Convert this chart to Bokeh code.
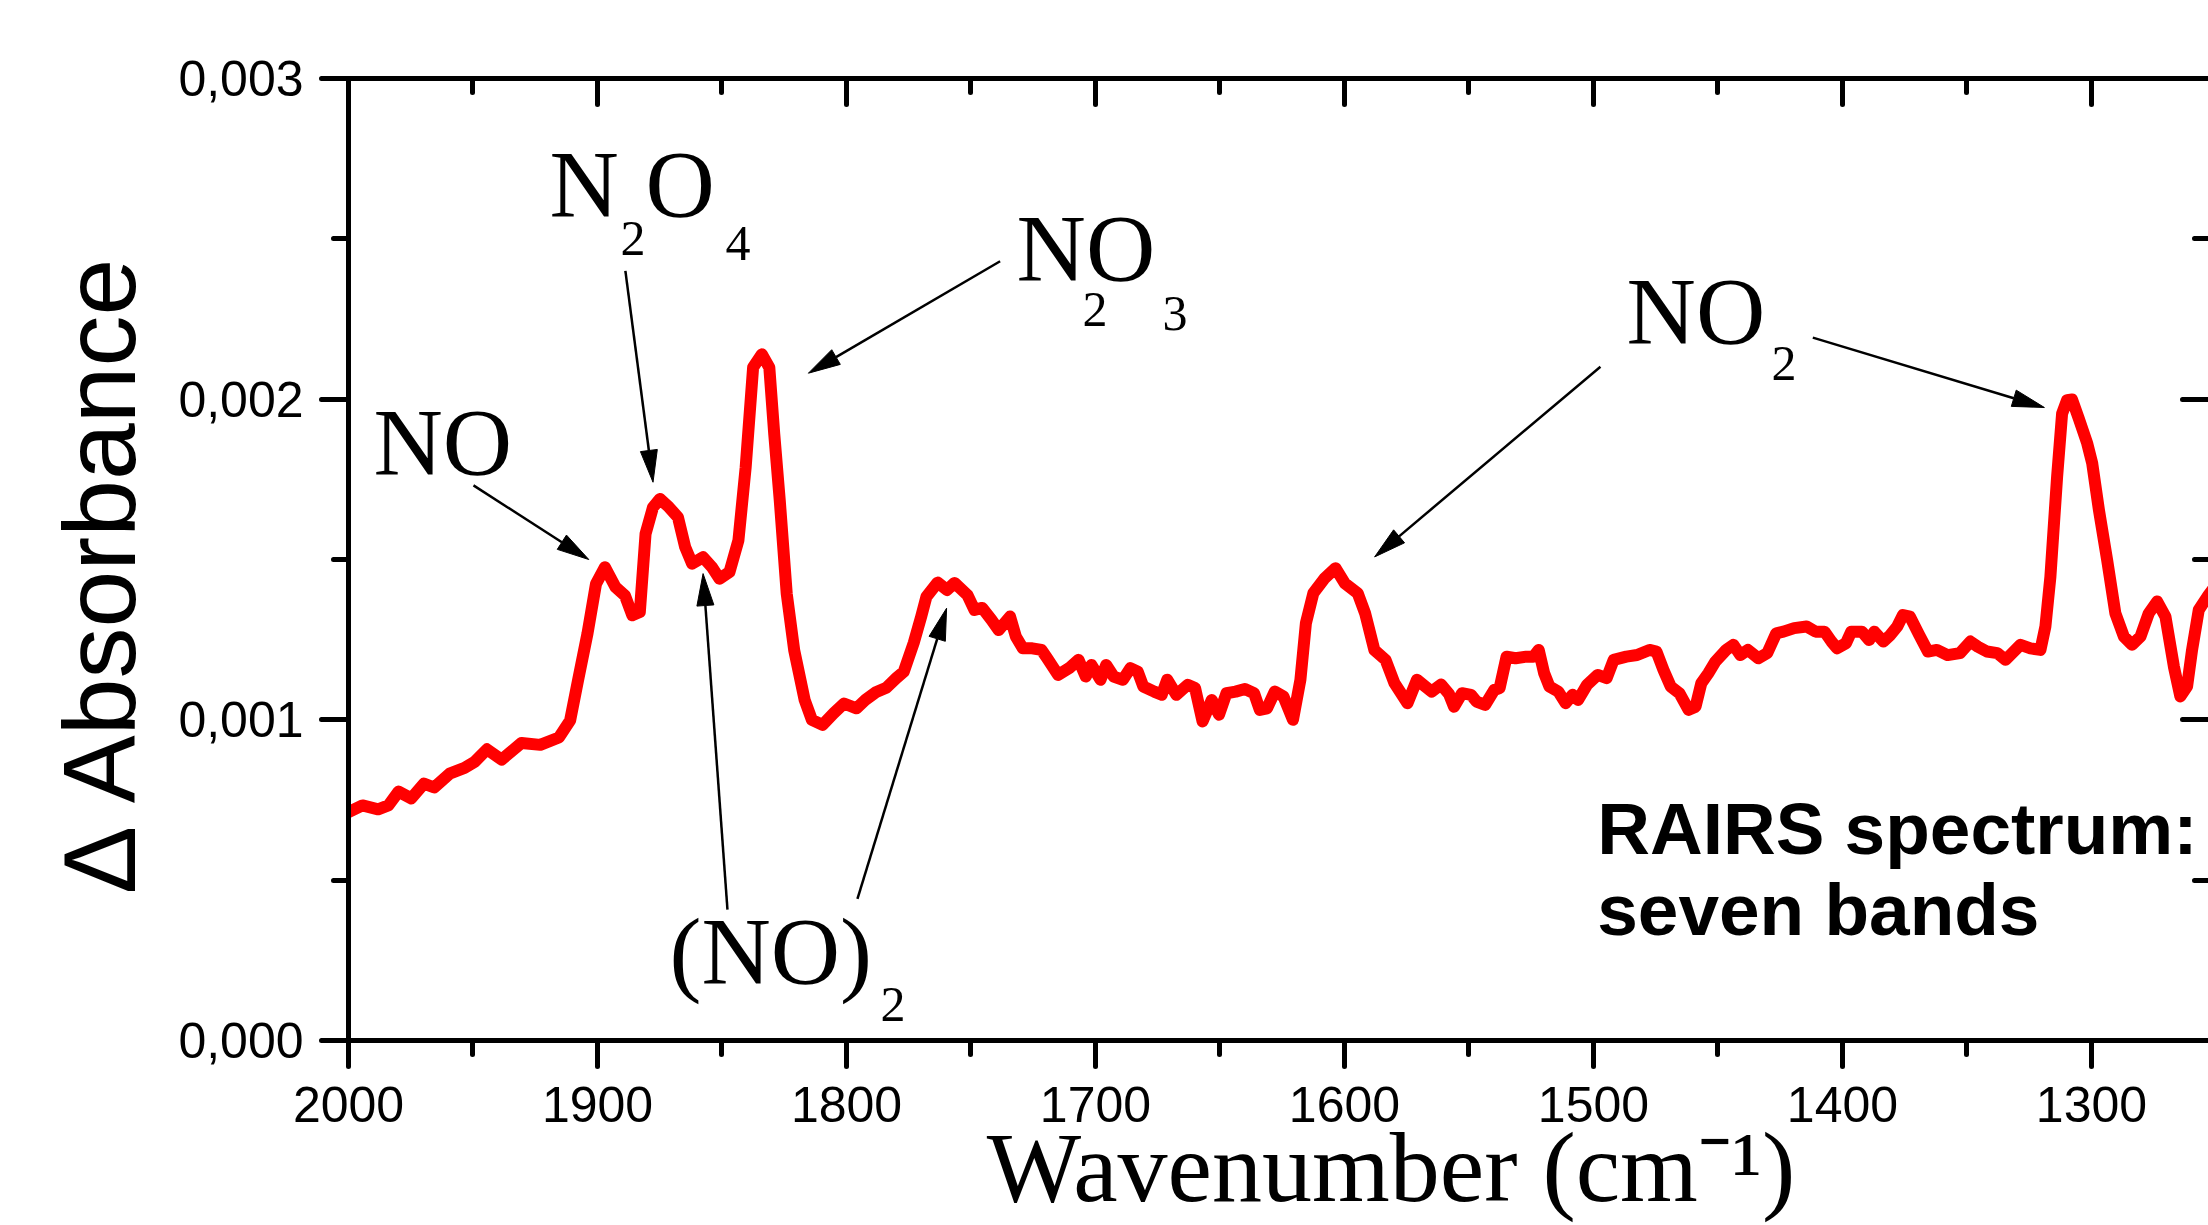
import math
from bokeh.plotting import figure
from bokeh.models import (Range1d, LinearAxis, SingleIntervalTicker,
                          CustomJSTickFormatter, Label)
from bokeh.embed import file_html
from bokeh.resources import INLINE

# RAIRS difference spectrum (wavenumber in cm^-1, delta absorbance)
wavenumber = [
    2000.0, 1994.4, 1988.1, 1984.0, 1979.9, 1974.8, 1969.7, 1965.6, 1959.4, 1953.4,
    1949.2, 1944.4, 1938.5, 1930.5, 1923.0, 1915.5, 1911.0, 1907.8, 1904.0, 1900.6,
    1897.0, 1892.8, 1889.0, 1886.0, 1883.0, 1880.7, 1877.7, 1874.9, 1871.3, 1867.7,
    1864.8, 1862.0, 1857.6, 1854.0, 1851.0, 1847.0, 1843.4, 1840.5, 1837.5, 1834.0,
    1831.0, 1829.0, 1826.8, 1824.0, 1821.0, 1816.8, 1813.9, 1809.6, 1805.2, 1801.0,
    1796.0, 1792.4, 1788.0, 1784.0, 1780.0, 1777.0, 1773.0, 1770.0, 1767.9, 1763.4,
    1759.6, 1756.6, 1751.4, 1748.6, 1745.5, 1741.8, 1738.9, 1734.3, 1732.0, 1729.2,
    1725.4, 1721.7, 1719.5, 1715.0, 1710.6, 1706.8, 1703.9, 1701.6, 1698.0, 1695.7,
    1692.7, 1689.0, 1686.0, 1683.0, 1680.8, 1676.4, 1673.4, 1671.2, 1667.5, 1663.0,
    1660.0, 1657.0, 1653.3, 1650.4, 1647.4, 1643.7, 1640.0, 1636.3, 1634.0, 1631.1,
    1628.0, 1624.5, 1620.7, 1617.7, 1615.5, 1612.5, 1608.0, 1603.6, 1599.9, 1594.7,
    1591.7, 1588.0, 1583.5, 1579.9, 1574.7, 1570.9, 1565.0, 1561.2, 1558.0, 1556.0,
    1552.8, 1549.2, 1547.0, 1543.5, 1539.9, 1537.7, 1534.9, 1531.3, 1527.0, 1524.1,
    1522.0, 1519.8, 1517.7, 1514.1, 1511.2, 1508.4, 1506.2, 1502.6, 1498.3, 1494.7,
    1491.9, 1486.8, 1482.5, 1477.5, 1474.7, 1471.9, 1469.0, 1465.5, 1461.8, 1459.0,
    1456.7, 1453.9, 1451.0, 1446.7, 1443.8, 1441.0, 1438.0, 1433.8, 1430.2, 1426.6,
    1423.7, 1419.4, 1414.4, 1410.8, 1407.2, 1404.4, 1402.2, 1398.6, 1396.5, 1392.2,
    1389.3, 1387.2, 1383.6, 1380.7, 1378.0, 1375.7, 1372.9, 1369.2, 1365.7, 1362.1,
    1357.8, 1352.8, 1348.6, 1345.6, 1342.0, 1337.8, 1334.5, 1328.5, 1324.5, 1320.5,
    1318.5, 1316.5, 1313.8, 1311.8, 1309.8, 1307.8, 1305.1, 1301.7, 1299.7, 1297.0,
    1293.7, 1290.4, 1287.0, 1283.7, 1280.3, 1277.0, 1273.6, 1270.3, 1266.9, 1264.3,
    1261.6, 1259.6, 1256.9, 1253.0, 1250.0,
]
absorbance = [
    0.000712, 0.000733, 0.000721, 0.000733, 0.000776, 0.000755, 0.000801, 0.000789, 0.000832, 0.000850,
    0.000870, 0.000908, 0.000876, 0.000928, 0.000922, 0.000945, 0.000998, 0.001124, 0.001270, 0.001424,
    0.001476, 0.001414, 0.001388, 0.001326, 0.001336, 0.001580, 0.001663, 0.001689, 0.001663, 0.001632,
    0.001539, 0.001487, 0.001507, 0.001476, 0.001440, 0.001461, 0.001560, 0.001787, 0.002099, 0.002140,
    0.002099, 0.001890, 0.001684, 0.001393, 0.001217, 0.001062, 0.001000, 0.000984, 0.001020, 0.001051,
    0.001036, 0.001062, 0.001087, 0.001100, 0.001130, 0.001150, 0.001240, 0.001322, 0.001384, 0.001428,
    0.001405, 0.001427, 0.001389, 0.001343, 0.001349, 0.001312, 0.001280, 0.001322, 0.001260, 0.001223,
    0.001223, 0.001218, 0.001193, 0.001140, 0.001161, 0.001187, 0.001135, 0.001171, 0.001125, 0.001171,
    0.001135, 0.001125, 0.001161, 0.001150, 0.001104, 0.001088, 0.001078, 0.001125, 0.001078, 0.001109,
    0.001099, 0.000995, 0.001062, 0.001016, 0.001083, 0.001088, 0.001096, 0.001083, 0.001031, 0.001036,
    0.001088, 0.001073, 0.001000, 0.001125, 0.001301, 0.001395, 0.001441, 0.001473, 0.001426, 0.001395,
    0.001332, 0.001218, 0.001187, 0.001114, 0.001052, 0.001125, 0.001088, 0.001110, 0.001080, 0.001041,
    0.001083, 0.001078, 0.001057, 0.001047, 0.001093, 0.001099, 0.001197, 0.001192, 0.001197, 0.001197,
    0.001218, 0.001145, 0.001104, 0.001088, 0.001052, 0.001078, 0.001062, 0.001109, 0.001140, 0.001130,
    0.001187, 0.001197, 0.001202, 0.001218, 0.001213, 0.001156, 0.001104, 0.001083, 0.001031, 0.001041,
    0.001114, 0.001145, 0.001182, 0.001218, 0.001234, 0.001202, 0.001218, 0.001192, 0.001208, 0.001270,
    0.001275, 0.001286, 0.001291, 0.001275, 0.001275, 0.001244, 0.001223, 0.001239, 0.001275, 0.001275,
    0.001249, 0.001275, 0.001244, 0.001265, 0.001291, 0.001327, 0.001322, 0.001265, 0.001213, 0.001218,
    0.001202, 0.001208, 0.001244, 0.001228, 0.001213, 0.001208, 0.001187, 0.001234, 0.001223, 0.001218,
    0.001291, 0.001446, 0.001758, 0.001955, 0.001997, 0.001999, 0.001940, 0.001862, 0.001800, 0.001654,
    0.001498, 0.001332, 0.001260, 0.001234, 0.001260, 0.001332, 0.001369, 0.001322, 0.001166, 0.001073,
    0.001104, 0.001218, 0.001343, 0.001389, 0.001420,
]

# Band assignments: label pieces (text, x, y, font size px)
band_labels = [
    ("NO", 1990.0, 0.001865, 96),
    ("N", 1919.3, 0.002669, 96), ("2", 1890.8, 0.002500, 50),
    ("O", 1880.7, 0.002669, 96), ("4", 1848.6, 0.002487, 50),
    ("NO", 1731.7, 0.002469, 96), ("2", 1705.2, 0.002279, 50), ("3", 1673.1, 0.002266, 50),
    ("NO", 1486.7, 0.002273, 96), ("2", 1428.5, 0.002110, 50),
    ("(NO)", 1871.1, 0.000276, 96), ("2", 1786.3, 0.000113, 50),
]

# Pointer arrows: (x_tail, y_tail, x_tip, y_tip)
arrows = [
    (1949.8, 0.001731, 1903.5, 0.001500),   # NO
    (1888.8, 0.002400, 1877.7, 0.001741),   # N2O4
    (1738.3, 0.002430, 1815.3, 0.002081),   # N2O3
    (1847.8, 0.000408, 1857.6, 0.001456),   # (NO)2, high-frequency band
    (1795.6, 0.000442, 1759.8, 0.001348),   # (NO)2, low-frequency band
    (1497.2, 0.002101, 1587.9, 0.001508),   # NO2 at 1604
    (1411.9, 0.002192, 1318.9, 0.001974),   # NO2 at 1308
]

X_START, X_END = 2000.0, 1253.0
Y_START, Y_END = 0.0, 0.003
WIDTH, HEIGHT = 2208, 1225
B_LEFT, B_RIGHT, B_TOP, B_BOTTOM = 348, 0, 78, 184

p = figure(width=WIDTH, height=HEIGHT, output_backend="svg", toolbar_location=None,
           x_range=Range1d(X_START, X_END), y_range=Range1d(Y_START, Y_END),
           x_axis_location=None, y_axis_location=None,
           min_border_left=B_LEFT, min_border_right=B_RIGHT,
           min_border_top=B_TOP, min_border_bottom=B_BOTTOM)
p.outline_line_color = None
p.background_fill_color = "white"
p.border_fill_color = "white"
for g in p.grid:
    g.visible = False

x_ticker = SingleIntervalTicker(interval=100, num_minor_ticks=2)
y_ticker = SingleIntervalTicker(interval=0.001, num_minor_ticks=2)
blank = CustomJSTickFormatter(code="return '';")


def make_axis(ticker, formatter, t_in, t_out, m_in, m_out, show_line=True,
              label_size="50px", standoff=12):
    ax = LinearAxis(ticker=ticker, formatter=formatter)
    ax.axis_line_width = 5
    ax.axis_line_color = "black" if show_line else None
    ax.major_tick_line_width = 5
    ax.minor_tick_line_width = 5
    ax.major_tick_line_cap = "round"
    ax.minor_tick_line_cap = "round"
    ax.major_tick_in, ax.major_tick_out = t_in, t_out
    ax.minor_tick_in, ax.minor_tick_out = m_in, m_out
    ax.major_label_text_font = "Liberation Sans"
    ax.major_label_text_font_size = label_size
    ax.major_label_text_color = "black"
    ax.major_label_standoff = standoff
    return ax


bottom = make_axis(x_ticker, CustomJSTickFormatter(code="return tick.toFixed(0);"),
                   0, 26, 0, 14, standoff=20)
# leading no-break spaces shift the centred title to the right
bottom.axis_label = "\u00a0" * 9 + "Wavenumber (cm\u207b\u00b9)"
bottom.axis_label_text_font = "Liberation Serif"
bottom.axis_label_text_font_size = "100px"
bottom.axis_label_text_font_style = "normal"
bottom.axis_label_text_color = "black"
bottom.axis_label_standoff = -13

left = make_axis(y_ticker, CustomJSTickFormatter(code="return tick.toFixed(3).replace('.', ',');"),
                 0, 27, 0, 15, standoff=18)
left.axis_label = "\u0394 Absorbance\u00a0"
left.axis_label_text_font = "Liberation Sans"
left.axis_label_text_font_size = "102px"
left.axis_label_text_font_style = "normal"
left.axis_label_text_color = "black"
left.axis_label_standoff = 18

top = make_axis(x_ticker, blank, 26, 0, 14, 0, label_size="0px", standoff=0)
right = make_axis(y_ticker, blank, 26, 0, 14, 0, show_line=False, label_size="0px", standoff=0)
p.add_layout(bottom, "below")
p.add_layout(left, "left")
p.add_layout(top, "above")
p.add_layout(right, "right")

# spectrum
p.line(wavenumber, absorbance, line_width=12, color="#ff0000",
       line_join="round", line_cap="round")

# arrows: thin shafts with slim filled heads (head geometry in screen pixels)
px_per_x = (WIDTH - B_LEFT - B_RIGHT) / abs(X_END - X_START)
px_per_y = (HEIGHT - B_TOP - B_BOTTOM) / (Y_END - Y_START)
HEAD_LEN, HEAD_W = 32.0, 17.0
x0s, y0s, x1s, y1s, hxs, hys = [], [], [], [], [], []
for xt, yt, xh, yh in arrows:
    dx = -(xh - xt) * px_per_x      # screen x grows as wavenumber falls
    dy = (yh - yt) * px_per_y       # upward positive
    n = math.hypot(dx, dy)
    ux, uy = dx / n, dy / n
    bx, by = -ux * HEAD_LEN, -uy * HEAD_LEN
    px, py = -uy * HEAD_W / 2, ux * HEAD_W / 2

    def to_data(sx, sy, xh=xh, yh=yh):
        return (xh - sx / px_per_x, yh + sy / px_per_y)

    base = to_data(bx, by)
    c1 = to_data(bx + px, by + py)
    c2 = to_data(bx - px, by - py)
    x0s.append(xt); y0s.append(yt); x1s.append(base[0]); y1s.append(base[1])
    hxs.append([xh, c1[0], c2[0]])
    hys.append([yh, c1[1], c2[1]])
p.segment(x0s, y0s, x1s, y1s, line_width=2.5, color="black")
p.patches(hxs, hys, fill_color="black", line_color="black", line_width=1)

serif = "Liberation Serif"
for text, x, y, size in band_labels:
    p.add_layout(Label(x=x, y=y, text=text, text_font=serif, text_font_size=f"{size}px",
                       text_color="black", text_baseline="alphabetic", text_align="left"))

# panel note
p.add_layout(Label(x=1498.5, y=0.000660, text="RAIRS spectrum:", text_font="Liberation Sans",
                   text_font_style="bold", text_font_size="73px", text_color="black",
                   text_baseline="alphabetic"))
p.add_layout(Label(x=1498.5, y=0.000408, text="seven bands", text_font="Liberation Sans",
                   text_font_style="bold", text_font_size="73px", text_color="black",
                   text_baseline="alphabetic"))

open("out.html", "w").write(file_html(p, INLINE))
